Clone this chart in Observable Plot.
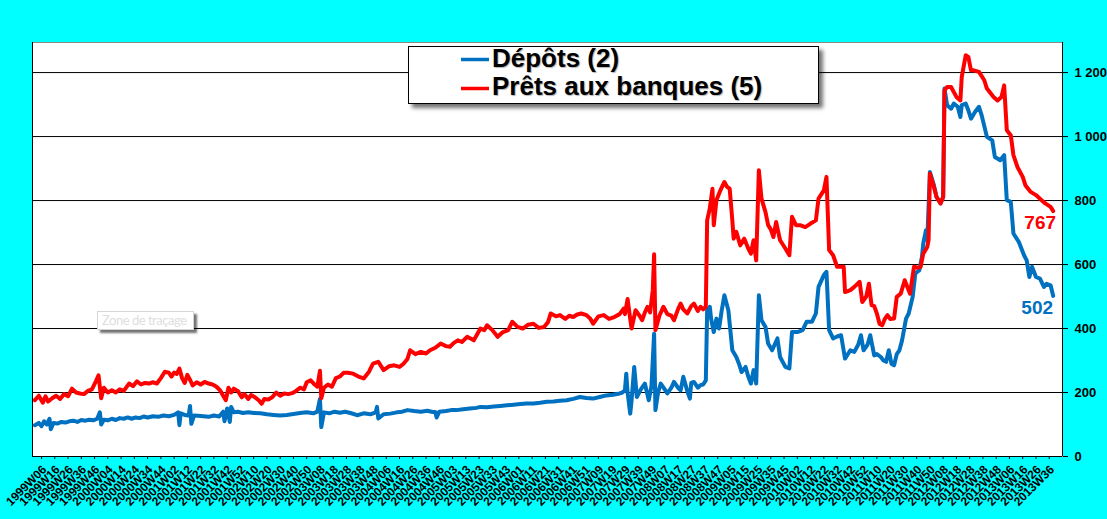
<!DOCTYPE html>
<html><head><meta charset="utf-8">
<script src="https://cdn.jsdelivr.net/npm/d3@7"></script>
<script src="https://cdn.jsdelivr.net/npm/@observablehq/plot@0.6"></script>
<style>
html,body{margin:0;padding:0;background:#00FFFF;}
#wrap{position:relative;width:1107px;height:519px;overflow:hidden;background:#00FFFF;}
#legend{position:absolute;left:408px;top:46px;width:411px;height:58px;box-sizing:border-box;border:1px solid #000;background:#fff;box-shadow:4px 4px 4px rgba(0,0,0,0.55);}
#legend svg{position:absolute;left:-1px;top:-1px;overflow:visible;}
#zone{position:absolute;left:97px;top:311px;width:97px;height:19px;box-sizing:border-box;border:1px solid #d6d6d6;background:#fff;box-shadow:3px 3px 2px rgba(0,0,0,0.55);}
#zone svg{position:absolute;left:-1px;top:-1px;overflow:visible;}
</style>
</head><body>
<div id="wrap"></div>
<script>
// ---- Data (values in millions) ----
const seriesNames = ["Dépôts (2)", "Prêts aux banques (5)"];

const depots = [
["1999W01",98],["1999W04",105],["1999W06",95],["1999W08",110],["1999W10",100],["1999W12",118],["1999W13",85],["1999W15",105],
["1999W18",103],["1999W21",108],["1999W24",106],["1999W27",110],["1999W30",112],["1999W33",108],["1999W36",114],["1999W39",112],
["1999W42",115],["1999W45",113],["1999W48",118],["1999W50",138],["1999W51",100],["2000W01",115],["2000W04",113],["2000W07",118],
["2000W10",114],["2000W13",120],["2000W16",118],["2000W19",122],["2000W22",118],["2000W25",122],["2000W28",120],["2000W31",125],
["2000W34",122],["2000W38",126],["2000W42",124],["2000W46",128],["2000W50",126],["2001W02",130],["2001W05",138],["2001W06",98],
["2001W07",135],["2001W10",130],["2001W13",128],["2001W14",158],["2001W15",102],["2001W17",128],["2001W20",127],["2001W24",126],
["2001W28",124],["2001W32",128],["2001W36",125],["2001W39",140],["2001W40",110],["2001W42",150],["2001W44",108],["2001W45",155],
["2001W47",138],["2001W50",140],["2002W02",136],["2002W06",138],["2002W10",136],["2002W15",135],["2002W20",132],["2002W25",130],
["2002W30",128],["2002W35",130],["2002W40",133],["2002W45",136],["2002W50",138],["2003W03",135],["2003W06",140],["2003W08",180],
["2003W09",92],["2003W11",138],["2003W15",135],["2003W19",140],["2003W23",137],["2003W27",140],["2003W31",136],["2003W36",129],
["2003W41",135],["2003W46",132],["2003W50",138],["2003W51",155],["2003W52",119],["2004W04",132],["2004W09",134],["2004W14",138],
["2004W18",140],["2004W22",145],["2004W27",142],["2004W32",140],["2004W37",143],["2004W41",139],["2004W43",139],["2004W44",122],
["2004W46",140],["2004W51",142],["2005W02",145],["2005W06",145],["2005W11",148],["2005W16",150],["2005W21",152],["2005W24",155],
["2005W29",154],["2005W34",156],["2005W39",158],["2005W44",160],["2005W49",162],["2006W02",164],["2006W07",166],["2006W12",166],
["2006W17",168],["2006W22",171],["2006W27",172],["2006W32",174],["2006W37",176],["2006W42",180],["2006W47",186],["2006W52",183],
["2007W05",181],["2007W10",186],["2007W15",191],["2007W20",193],["2007W25",197],["2007W27",200],["2007W29",207],["2007W30",259],
["2007W31",200],["2007W33",134],["2007W34",175],["2007W36",280],["2007W38",186],["2007W41",210],["2007W44",228],["2007W47",176],
["2007W49",220],["2007W51",384],["2007W52",145],["2008W02",200],["2008W04",228],["2008W07",210],["2008W09",197],["2008W12",215],
["2008W14",233],["2008W17",215],["2008W19",207],["2008W21",249],["2008W24",205],["2008W26",181],["2008W27",230],["2008W29",233],
["2008W32",215],["2008W34",223],["2008W36",225],["2008W38",238],["2008W39",457],["2008W41",468],["2008W42",430],["2008W44",389],
["2008W46",431],["2008W48",400],["2008W50",457],["2008W52",504],["2009W03",457],["2009W06",332],["2009W09",311],["2009W11",290],
["2009W13",264],["2009W16",280],["2009W18",250],["2009W20",228],["2009W22",270],["2009W24",228],["2009W26",504],["2009W28",426],
["2009W31",405],["2009W33",353],["2009W36",332],["2009W40",369],["2009W42",311],["2009W46",280],["2009W49",275],["2009W51",389],
["2010W02",389],["2010W06",395],["2010W09",421],["2010W13",421],["2010W16",447],["2010W18",530],["2010W22",567],["2010W24",577],
["2010W26",395],["2010W29",369],["2010W32",375],["2010W35",379],["2010W38",306],["2010W42",332],["2010W45",327],["2010W48",350],
["2010W50",379],["2010W52",332],["2011W03",350],["2011W05",379],["2011W08",316],["2011W10",320],["2011W13",311],["2011W15",300],
["2011W17",296],["2011W19",332],["2011W21",290],["2011W23",285],["2011W25",320],["2011W27",332],["2011W29",363],["2011W32",431],
["2011W34",447],["2011W37",499],["2011W39",572],["2011W42",582],["2011W44",624],["2011W45",666],["2011W47",707],["2011W48",676],
["2011W50",889],["2012W01",848],["2012W03",811],["2012W06",791],["2012W08",811],["2012W09",1150],["2012W11",1098],["2012W14",1087],
["2012W16",1103],["2012W19",1093],["2012W21",1061],["2012W22",1098],["2012W25",1103],["2012W27",1082],["2012W29",1056],["2012W32",1077],
["2012W35",1093],["2012W37",1067],["2012W41",999],["2012W45",988],["2012W47",936],["2012W51",926],["2013W02",942],["2013W04",801],
["2013W07",796],["2013W09",697],["2013W13",671],["2013W17",629],["2013W19",613],["2013W21",561],["2013W23",593],["2013W26",561],
["2013W29",556],["2013W32",530],["2013W34",540],["2013W37",535],["2013W39",502]
];

const prets = [
["1999W01",176],["1999W04",190],["1999W07",168],["1999W09",188],["1999W11",172],["1999W14",182],["1999W17",190],["1999W20",180],
["1999W23",195],["1999W26",188],["1999W29",212],["1999W32",200],["1999W35",197],["1999W38",195],["1999W41",205],["1999W44",210],
["1999W47",235],["1999W49",254],["1999W51",182],["2000W01",215],["2000W04",200],["2000W07",207],["2000W10",200],["2000W13",210],
["2000W16",205],["2000W20",228],["2000W23",220],["2000W26",235],["2000W29",225],["2000W32",230],["2000W35",228],["2000W38",232],
["2000W41",228],["2000W44",245],["2000W47",265],["2000W50",262],["2000W52",250],["2001W02",262],["2001W04",258],["2001W06",275],
["2001W08",245],["2001W10",230],["2001W12",255],["2001W14",240],["2001W16",222],["2001W19",232],["2001W22",225],["2001W25",233],
["2001W28",228],["2001W31",225],["2001W34",218],["2001W37",205],["2001W39",190],["2001W41",176],["2001W43",215],["2001W45",200],
["2001W47",212],["2001W50",205],["2002W01",185],["2002W03",195],["2002W06",180],["2002W08",192],["2002W11",185],["2002W14",175],
["2002W16",165],["2002W18",180],["2002W21",178],["2002W24",185],["2002W27",200],["2002W30",190],["2002W33",197],["2002W36",195],
["2002W39",198],["2002W42",205],["2002W45",215],["2002W48",210],["2002W50",232],["2003W01",238],["2003W04",225],["2003W06",218],
["2003W08",268],["2003W09",182],["2003W11",215],["2003W14",225],["2003W17",218],["2003W20",245],["2003W23",250],["2003W26",262],
["2003W29",262],["2003W33",259],["2003W37",250],["2003W41",244],["2003W45",265],["2003W48",290],["2003W52",296],["2004W04",270],
["2004W08",282],["2004W12",285],["2004W16",280],["2004W19",290],["2004W22",305],["2004W24",332],["2004W28",320],["2004W32",327],
["2004W36",322],["2004W39",332],["2004W43",340],["2004W47",353],["2004W51",345],["2005W01",343],["2005W04",355],["2005W07",363],
["2005W10",358],["2005W14",374],["2005W17",368],["2005W19",363],["2005W22",385],["2005W24",400],["2005W27",395],["2005W29",410],
["2005W33",395],["2005W37",374],["2005W41",389],["2005W45",395],["2005W48",421],["2005W52",405],["2006W04",400],["2006W08",412],
["2006W12",415],["2006W16",402],["2006W20",405],["2006W23",420],["2006W25",447],["2006W29",438],["2006W32",442],["2006W36",430],
["2006W39",440],["2006W42",436],["2006W45",444],["2006W48",447],["2006W52",442],["2007W03",430],["2007W05",415],["2007W09",438],
["2007W13",442],["2007W17",430],["2007W21",436],["2007W25",445],["2007W28",462],["2007W29",445],["2007W31",492],["2007W33",430],
["2007W34",400],["2007W37",457],["2007W40",440],["2007W42",426],["2007W44",450],["2007W46",468],["2007W48",450],["2007W50",520],
["2007W51",632],["2007W52",395],["2008W03",440],["2008W06",468],["2008W09",445],["2008W12",440],["2008W14",426],["2008W17",460],
["2008W19",478],["2008W21",460],["2008W24",447],["2008W27",470],["2008W29",478],["2008W32",455],["2008W34",468],["2008W36",460],
["2008W38",468],["2008W39",738],["2008W41",775],["2008W43",837],["2008W44",723],["2008W46",801],["2008W49",832],["2008W51",850],
["2008W52",858],["2009W02",843],["2009W04",837],["2009W06",738],["2009W07",681],["2009W09",702],["2009W12",660],["2009W15",681],
["2009W18",650],["2009W20",634],["2009W22",676],["2009W24",613],["2009W26",895],["2009W28",806],["2009W31",764],["2009W33",723],
["2009W35",710],["2009W37",686],["2009W39",733],["2009W42",676],["2009W46",650],["2009W49",629],["2009W51",749],["2010W01",723],
["2010W04",723],["2010W08",717],["2010W12",728],["2010W16",738],["2010W18",806],["2010W22",832],["2010W24",874],["2010W26",645],
["2010W29",629],["2010W32",593],["2010W37",593],["2010W38",514],["2010W42",520],["2010W45",530],["2010W49",546],["2010W51",483],
["2011W02",500],["2011W04",540],["2011W06",473],["2011W08",470],["2011W10",447],["2011W12",415],["2011W14",410],["2011W16",430],
["2011W18",442],["2011W20",430],["2011W23",431],["2011W25",499],["2011W28",509],["2011W31",551],["2011W33",530],["2011W35",509],
["2011W38",593],["2011W41",590],["2011W43",593],["2011W45",634],["2011W48",655],["2011W49",676],["2011W50",884],["2012W01",843],
["2012W03",811],["2012W06",791],["2012W08",811],["2012W09",1145],["2012W11",1155],["2012W14",1155],["2012W16",1139],["2012W18",1124],
["2012W21",1113],["2012W22",1186],["2012W25",1254],["2012W27",1249],["2012W29",1207],["2012W31",1207],["2012W35",1202],["2012W39",1176],
["2012W41",1150],["2012W46",1124],["2012W49",1113],["2012W52",1124],["2013W02",1160],["2013W04",1020],["2013W07",1004],["2013W09",942],
["2013W12",905],["2013W16",874],["2013W18",848],["2013W22",827],["2013W26",817],["2013W29",806],["2013W33",791],["2013W37",780],
["2013W39",767]
];

const xTickLabels = [
"1999W06","1999W16","1999W26","1999W36","1999W46","2000W04","2000W14","2000W24","2000W34","2000W44",
"2001W02","2001W12","2001W22","2001W32","2001W42","2001W52","2002W10","2002W20","2002W30","2002W40",
"2002W50","2003W08","2003W18","2003W28","2003W38","2003W48","2004W06","2004W16","2004W26","2004W36",
"2004W46","2005W03","2005W13","2005W23","2005W33","2005W43","2006W01","2006W11","2006W21","2006W31",
"2006W41","2006W51","2007W09","2007W19","2007W29","2007W39","2007W49","2008W07","2008W17","2008W27",
"2008W37","2008W47","2009W05","2009W15","2009W25","2009W35","2009W45","2010W02","2010W12","2010W22",
"2010W32","2010W42","2010W52","2011W10","2011W20","2011W30","2011W40","2011W50","2012W08","2012W18",
"2012W28","2012W38","2012W48","2013W06","2013W16","2013W26","2013W36"
];

const yTicks = [0, 200, 400, 600, 800, 1000, 1200];
const yTickLabels = ["0", "200", "400", "600", "800", "1 000", "1 200"];

// ---- Helpers ----
const DAY = 864e5;
function weekDate(s) {
  const y = +s.slice(0, 4), w = +s.slice(5);
  const j4 = Date.UTC(y, 0, 4);
  const dow = (new Date(j4).getUTCDay() + 6) % 7;
  return new Date(j4 - dow * DAY + (w - 1) * 7 * DAY);
}
const blue = "#0070C0", red = "#FF0000";
const firstTick = weekDate(xTickLabels[0]);
const x0 = new Date(+firstTick - 6.8 * 7 * DAY);
const x1 = new Date(+firstTick + 770 * 7 * DAY);
const tickDates = xTickLabels.map(weekDate);
const xTicksData = xTickLabels.map(l => ({date: weekDate(l), label: l}));
const yLabelMap = new Map(yTicks.map((v, i) => [v, yTickLabels[i]]));

const dep = depots.map(([w, v]) => ({date: weekDate(w), value: v}));
const pre = prets.map(([w, v]) => ({date: weekDate(w), value: v}));

const chart = Plot.plot({
  width: 1107, height: 519,
  marginLeft: 32, marginRight: 45, marginTop: 42, marginBottom: 63,
  style: {background: "#00FFFF", color: "#000", fontFamily: "'Liberation Sans', Arial, sans-serif", fontWeight: "bold", overflow: "visible"},
  x: {type: "utc", domain: [x0, x1]},
  y: {domain: [0, 1294]},
  marks: [
    Plot.frame({fill: "white", stroke: "#8a8a8a"}),
    Plot.gridY(yTicks.filter(d => d > 0), {stroke: "#000", strokeOpacity: 1, strokeWidth: 1}),
    Plot.ruleX([x0, x1], {stroke: "#000", strokeWidth: 1}),
    Plot.ruleY([0], {stroke: "#000", strokeWidth: 1}),
    Plot.axisX({ticks: tickDates, tickFormat: () => "", tickSize: 3, label: null, stroke: "#000"}),
    Plot.text(xTicksData, {x: "date", frameAnchor: "bottom", text: "label", rotate: -45, textAnchor: "end", lineAnchor: "middle",
      dx: 3, dy: 11, fontSize: 12, fontWeight: "bold", fill: "#000"}),
    Plot.axisY({anchor: "right", ticks: yTicks, tickFormat: d => yLabelMap.get(d), tickSize: 5, tickPadding: 7,
      fontSize: 13, fontWeight: "bold", label: null}),
    Plot.line(dep, {x: "date", y: "value", stroke: blue, strokeWidth: 4, strokeLinejoin: "round"}),
    Plot.line(pre, {x: "date", y: "value", stroke: red, strokeWidth: 4, strokeLinejoin: "round"}),
    Plot.text(pre.slice(-1), {x: "date", y: "value", text: d => String(d.value), fill: red, fontSize: 19, fontWeight: "bold", dx: -13, dy: 12}),
    Plot.text(dep.slice(-1), {x: "date", y: "value", text: d => String(d.value), fill: blue, fontSize: 19, fontWeight: "bold", dx: -16, dy: 12})
  ]
});

const wrap = document.getElementById("wrap");
wrap.appendChild(chart);

// Legend (inside plot area, as in the original)
const legend = document.createElement("div");
legend.id = "legend";
const ns = "http://www.w3.org/2000/svg";
const lsvg = document.createElementNS(ns, "svg");
lsvg.setAttribute("width", 411); lsvg.setAttribute("height", 58);
const colors = [blue, red];
seriesNames.forEach((name, i) => {
  const yc = 13.5 + i * 29;
  const ln = document.createElementNS(ns, "line");
  ln.setAttribute("x1", 53); ln.setAttribute("x2", 81);
  ln.setAttribute("y1", yc); ln.setAttribute("y2", yc);
  ln.setAttribute("stroke", colors[i]); ln.setAttribute("stroke-width", 3.5);
  lsvg.appendChild(ln);
  const t = document.createElementNS(ns, "text");
  t.setAttribute("x", 84); t.setAttribute("y", 20.8 + i * 28.5);
  t.setAttribute("font-family", "'Liberation Sans', Arial, sans-serif");
  t.setAttribute("font-weight", "bold"); t.setAttribute("font-size", 26);
  t.setAttribute("fill", "#000");
  t.setAttribute("style", "text-shadow:1px 1px 1px rgba(0,0,0,0.3)");
  t.textContent = name;
  lsvg.appendChild(t);
});
legend.appendChild(lsvg);
wrap.appendChild(legend);

// Excel "Zone de traçage" tooltip
const zone = document.createElement("div");
zone.id = "zone";
const zsvg = document.createElementNS(ns, "svg");
zsvg.setAttribute("width", 97); zsvg.setAttribute("height", 19);
const zt = document.createElementNS(ns, "text");
zt.setAttribute("x", 5); zt.setAttribute("y", 14);
zt.setAttribute("font-family", "Lato, 'Open Sans', sans-serif");
zt.setAttribute("font-size", 13); zt.setAttribute("fill", "#dedede");
zt.setAttribute("textLength", 85);
zt.textContent = "Zone de traçage";
zsvg.appendChild(zt);
zone.appendChild(zsvg);
wrap.appendChild(zone);
</script>
</body></html>
